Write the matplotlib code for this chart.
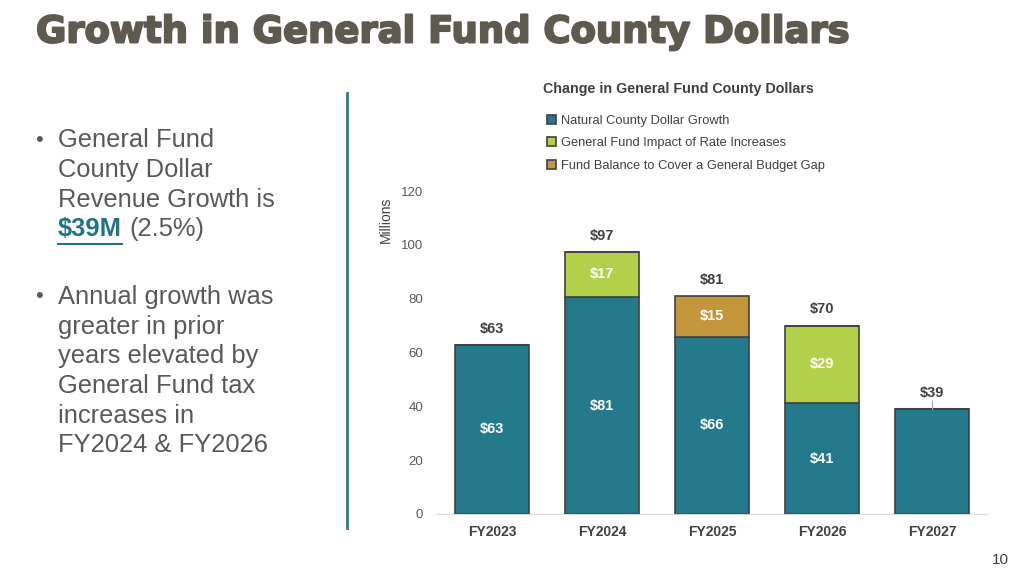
import matplotlib
matplotlib.use("Agg")
import matplotlib.pyplot as plt
import matplotlib.patheffects as pe
import numpy as np

years = ["FY2023", "FY2024", "FY2025", "FY2026", "FY2027"]
natural = [62.8, 80.6, 65.9, 41.2, 39.0]
rate_incr = [0, 16.8, 0, 28.8, 0]
fund_bal = [0, 0, 15.2, 0, 0]
natural_labels = ["$63", "$81", "$66", "$41", ""]
series_names = ["Natural County Dollar Growth",
                "General Fund Impact of Rate Increases",
                "Fund Balance to Cover a General Budget Gap"]

teal = "#24798a"
green = "#b2d04a"
gold = "#c4963c"
edge = "#404040"
gray_txt = "#595959"
narrow = ["Liberation Sans Narrow", "Liberation Sans", "DejaVu Sans"]
arial = ["Liberation Sans"]

fig = plt.figure(figsize=(10.24, 5.76), dpi=100)

# slide title
fig.text(36 / 1024, 1 - 32 / 576, "Growth in General Fund County Dollars",
         fontsize=26.6, fontweight="heavy", color="#5f5a50",
         family=["DejaVu Sans"], va="center", ha="left",
         path_effects=[pe.withStroke(linewidth=1.4, foreground="#5f5a50")])

# bullets
fs = 18.4
bullets = [
    (140, 29.8, ["General Fund", "County Dollar", "Revenue Growth is"]),
    (297, 29.7, ["Annual growth was", "greater in prior", "years elevated by",
                 "General Fund tax", "increases in", "FY2024 & FY2026"]),
]
for y0, lh, lines in bullets:
    fig.text(35 / 1024, 1 - y0 / 576, "\u2022", fontsize=16, color=gray_txt,
             family=arial, va="center")
    for i, ln in enumerate(lines):
        fig.text(58 / 1024, 1 - (y0 + i * lh) / 576, ln, fontsize=fs,
                 color=gray_txt, family=arial, va="center")
# highlighted amount line
y4 = 140 + 3 * 29.8
t1 = fig.text(58 / 1024, 1 - y4 / 576, "$39M", fontsize=fs, color="#1f7489",
              fontweight="bold", family=arial, va="center")
fig.canvas.draw()
bb = t1.get_window_extent()
fig.text((bb.x1 + 7) / 1024, 1 - y4 / 576, "(2.5%)", fontsize=fs, color=gray_txt,
         family=arial, va="center")
fig.add_artist(plt.Line2D([58 / 1024, bb.x1 / 1024], [1 - 244 / 576, 1 - 244 / 576],
                          color="#1f7489", lw=1.5))

# divider
fig.add_artist(plt.Line2D([347 / 1024, 347 / 1024], [1 - 93 / 576, 1 - 528 / 576],
                          color="#2a7a8c", lw=2))

# page number
fig.text(1000 / 1024, 1 - 560 / 576, "10", fontsize=11, color="#404040",
         family=arial, ha="center", va="center")

# chart
ax = fig.add_axes([437 / 1024, 1 - 514 / 576, 550 / 1024, 323 / 576])
x = np.arange(len(years))
w = 0.68
nat = np.array(natural)
rat = np.array(rate_incr)
fb = np.array(fund_bal)
ax.bar(x, nat, w, color=teal, edgecolor=edge, lw=1.2, label=series_names[0])
ax.bar(x, rat, w, bottom=nat, color=green, edgecolor=edge, lw=1.2,
       label=series_names[1])
ax.bar(x, fb, w, bottom=nat + rat, color=gold, edgecolor=edge, lw=1.2,
       label=series_names[2])

lab_kw = dict(ha="center", va="center", color="white", fontsize=10.5,
              fontweight="bold", family=narrow)
for xi, n, r, f, nl in zip(x, nat, rat, fb, natural_labels):
    if nl:
        ax.text(xi, n / 2, nl, **lab_kw)
    if r > 0:
        ax.text(xi, n + r / 2, f"${r:.0f}", **lab_kw)
    if f > 0:
        ax.text(xi, n + f / 2, f"${f:.0f}", **lab_kw)
    tot = n + r + f
    ax.text(xi, tot + 6, f"${tot:.0f}", ha="center", va="center",
            color=edge, fontsize=10.5, fontweight="bold", family=narrow)
    if not nl:
        ax.plot([xi, xi], [tot, tot + 3], color="#a6a6a6", lw=0.8)

ax.set_xlim(-0.5, 4.5)
ax.set_ylim(0, 120)
ax.set_yticks(range(0, 121, 20))
ax.set_xticks(x)
ax.set_xticklabels(years, fontsize=10, fontweight="bold", color=edge,
                   family=narrow)
for lab in ax.get_yticklabels():
    lab.set_fontsize(9.5)
    lab.set_color(gray_txt)
    lab.set_family(narrow)
ax.tick_params(length=0, pad=8)
ax.tick_params(axis="y", pad=10)
for s in ["top", "right", "left"]:
    ax.spines[s].set_visible(False)
ax.spines["bottom"].set_color("#d9d9d9")
ax.set_ylabel("Millions", fontsize=10, color=edge, family=narrow)
ax.yaxis.set_label_coords(-0.08, 0.91)

# chart title and legend
fig.text(543 / 1024, 1 - 89 / 576, "Change in General Fund County Dollars",
         fontsize=10.3, fontweight="bold", color=edge, family=narrow, va="center")
leg = ax.legend(loc="upper left", bbox_to_anchor=(535 / 1024, 1 - 103 / 576),
                bbox_transform=fig.transFigure, frameon=False,
                handlelength=0.7, handleheight=0.7, handletextpad=0.4,
                labelspacing=0.82, prop={"family": narrow, "size": 9.3})
for t in leg.get_texts():
    t.set_color(edge)

fig.savefig("out.png", dpi=100)
